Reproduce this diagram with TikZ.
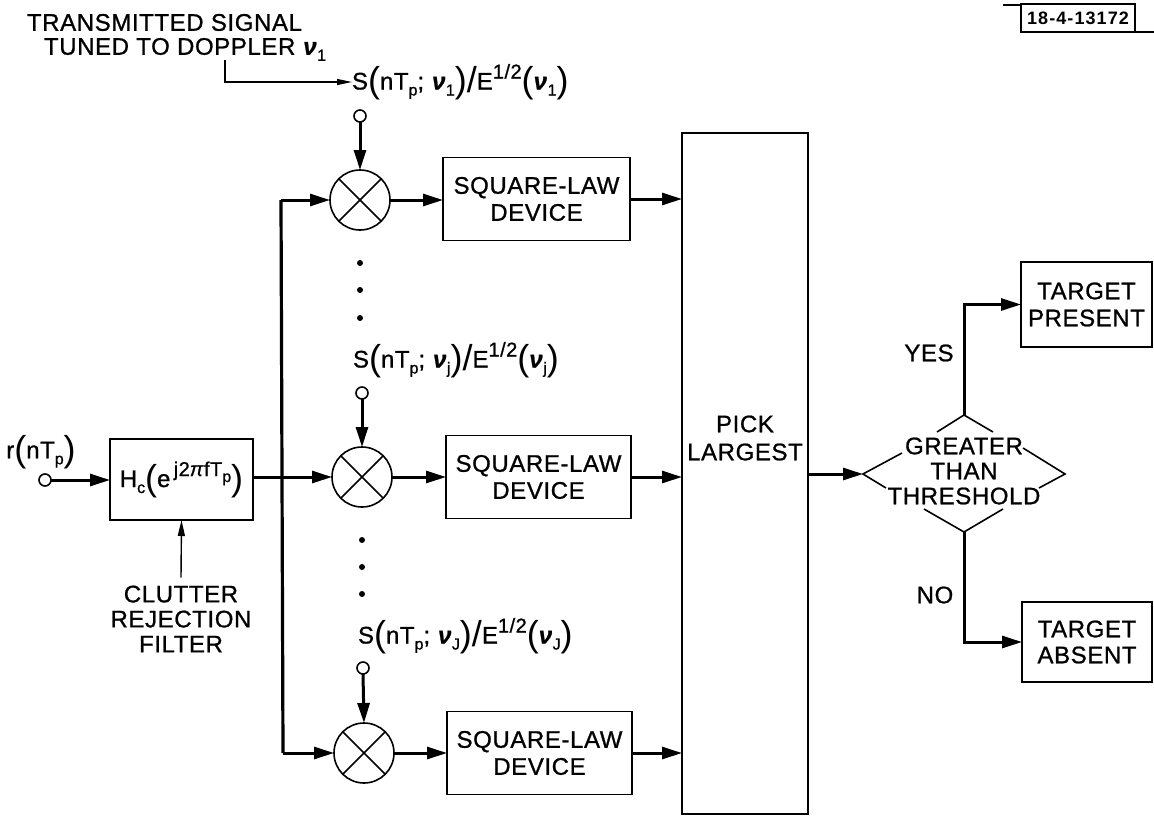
\documentclass[tikz,border=0pt]{standalone}
\usepackage{fontspec}
\setmainfont{Liberation Sans}[LetterSpace=2.5,FakeBold=0.9]
\newfontfamily\codefont[LetterSpace=6]{Liberation Sans}
\newfontfamily\parenfont{Liberation Sans}
\usetikzlibrary{arrows.meta}
\newcommand{\nuu}{\textbf{\textit{ν}}}
\newcommand{\dn}[1]{\raisebox{-6pt}{\fontsize{16}{16}\selectfont #1}}
\newcommand{\upp}[1]{\raisebox{11pt}{\fontsize{20}{20}\selectfont #1}}
\newcommand{\bigp}[1]{\raisebox{-3pt}{\parenfont\fontsize{36}{36}\selectfont #1}}
\newcommand{\slab}[1]{S\bigp{(}nT\dn{p}; \nuu\dn{#1}\bigp{)}\bigp{/}E\upp{1/2}\bigp{(}\nuu\dn{#1}\bigp{)}}
\tikzset{
  every node/.style={font=\fontsize{24}{25}\selectfont,align=center,inner sep=0pt,outer sep=0pt},
  thickwire/.style={line width=3pt,-{Triangle[length=20pt,width=12pt]}},
  buswire/.style={line width=3.2pt,line join=round},
  thinwire/.style={line width=1.2pt,-{Triangle[length=15pt,width=6pt]}},
  blockbox/.style={draw,line width=1.7pt,minimum width=#1,minimum height=83pt},
  blockbox/.default=185pt,
  mixer/.style={draw,circle,line width=1.6pt,minimum size=60pt},
  terminal/.style={draw,circle,line width=1.6pt,minimum size=12pt,fill=white},
  vdot/.style={circle,fill=black,minimum size=6pt},
  dia/.style={line width=1.6pt,line join=miter},
}
\begin{document}
\begin{tikzpicture}[x=1pt,y=-1pt]
\useasboundingbox (0,0) rectangle (1154,816);
% top legend
\node[anchor=north west,align=left] (leg) at (27,14) {TRANSMITTED SIGNAL\\[-1pt]\hspace*{17pt}TUNED TO DOPPLER \nuu\dn{1}};
\coordinate (tap) at (225,60);
\node[anchor=west] (labA) at (352,82) {\slab{1}};
\draw[thinwire] (tap) |- (labA.west);
% labels
\node[anchor=west] (labB) at (353,360) {\slab{j}};
\node[anchor=west] (labC) at (358,636) {\slab{J}};
% terminals
\node[terminal] (tA) at (360,116) {};
\node[terminal] (tB) at (362,393) {};
\node[terminal] (tC) at (363,668) {};
% mixers
\foreach \n/\x/\y in {mixA/360/200,mixB/362/477,mixC/364/753}{
  \node[mixer] (\n) at (\x,\y) {};
  \draw[line width=1.6pt] (\n.45)--(\n.225) (\n.135)--(\n.315);
}
% square-law boxes
\node[blockbox=187pt] (boxA) at (536.5,199) {SQUARE-LAW\\[2pt]DEVICE};
\node[blockbox] (boxB) at (538.5,477) {SQUARE-LAW\\[2pt]DEVICE};
\node[blockbox] (boxC) at (539.5,753) {SQUARE-LAW\\[2pt]DEVICE};
% pick largest
\node[draw,line width=1.7pt,minimum width=126pt,minimum height=681pt] (pick) at (745,473.5) {};
\node (picktext) at (745,438) {PICK\\[3pt]LARGEST};
% filter
\node[terminal] (tIn) at (45,480) {};
\node (rlab) at (41,452) {r\bigp{(}nT\dn{p}\bigp{)}};
\node[draw,line width=1.7pt,minimum width=143pt,minimum height=81pt] (filt) at (181.5,479.5)
  {H\dn{c}\bigp{(}e\upp{\,j2\textit{π}fT\dn{p}}\bigp{)}};
\node (clut) at (181,619) {CLUTTER\\REJECTION\\FILTER};
% outcome boxes
\node[draw,line width=1.7pt,minimum width=131pt,minimum height=85pt] (pres) at (1086.5,304.5) {TARGET\\[2pt]PRESENT};
\node[draw,line width=1.7pt,minimum width=130pt,minimum height=80pt] (abs) at (1087,642) {TARGET\\[1pt]ABSENT};
% decision
\node (dtext) at (964,471) {GREATER\\THAN\\THRESHOLD};
\coordinate (dT) at (964,415);
\coordinate (dB) at (964,532);
\coordinate (dL) at (863,474);
\coordinate (dR) at (1065,474);
\draw[dia] (937,432)--(dT)--(993,432);
\draw[dia] (902,453)--(dL)--(886,488);
\draw[dia] (1023,448)--(dR)--(1039,488);
\draw[dia] (924,509)--(dB)--(1003,509);
\node (yes) at (929,353) {YES};
\node (no) at (935,595) {NO};
% connectors
\draw[thickwire] (tIn.east) -- (tIn.east -| filt.west);
\draw[line width=1.4pt,-{Triangle[length=16pt,width=7pt]}] (clut.north) ++(0,-8) -- (filt.south);
\draw[thickwire] (filt.east |- mixB.west) -- (mixB.west);
\coordinate (busA) at (281,200);
\coordinate (busC) at (283,753);
\draw[buswire] (busA) -- (busC);
\draw[thickwire] (busA) -- (mixA.west);
\draw[thickwire] (busC) -- (mixC.west);
\foreach \a/\b in {tA/mixA,tB/mixB,tC/mixC}{
  \draw[thickwire] (\a.south) -- (\b.north);
}
\foreach \a/\b in {mixA/boxA,mixB/boxB,mixC/boxC}{
  \draw[thickwire] (\a.east) -- (\b.west |- \a.east);
  \draw[thickwire] (\b.east) -- (\b.east -| pick.west);
}
\draw[thickwire] (dL -| pick.east) -- (dL);
\draw[thickwire] (dT) |- (pres.west);
\draw[thickwire] (dB) |- (abs.west);
% dots
\foreach \n/\x/\y in {da/360/263,db/360/290,dc/360/318,dd/362/540,de/362/567,df/362/594}{
  \node[vdot] (\n) at (\x,\y) {};
}
% drawing number
\node[draw,line width=1.6pt,minimum width=114pt,minimum height=28pt] (code) at (1078,18)
  {\codefont\fontsize{18}{18}\selectfont\bfseries 18-4-13172};
\draw[line width=1.2pt] (1003,5) -- (code.north west |- 0,5);
\draw[line width=1.2pt] (code.south east |- 0,32) -- (1154,32);
\end{tikzpicture}
\end{document}
